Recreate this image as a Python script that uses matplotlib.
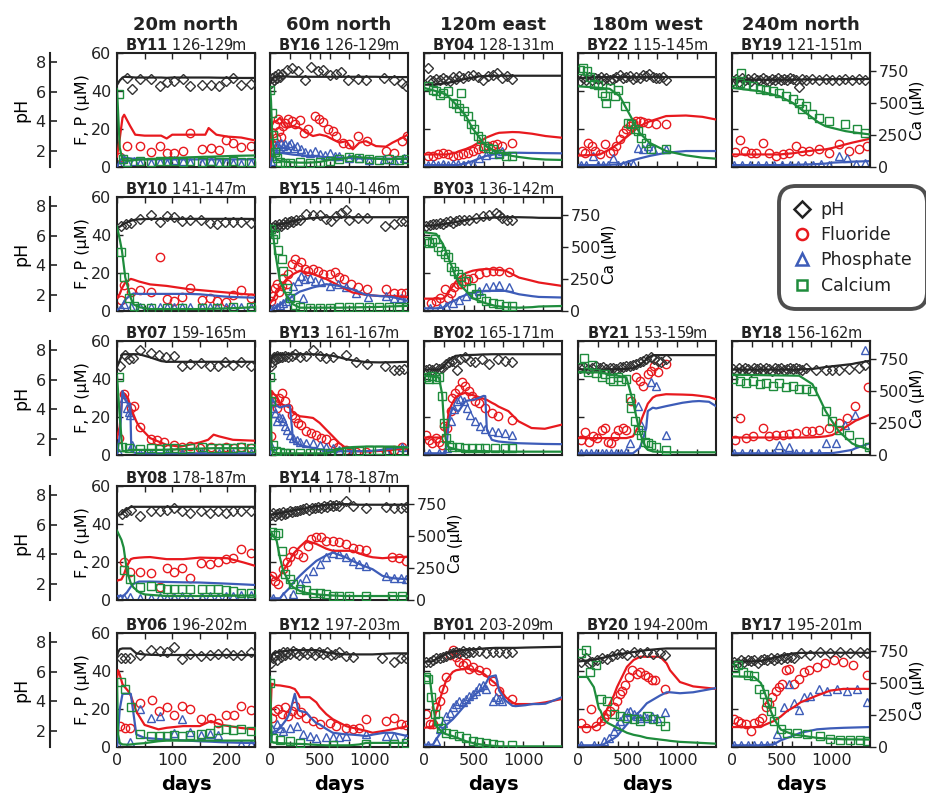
import matplotlib
matplotlib.use("Agg")
import matplotlib.pyplot as plt
from matplotlib.lines import Line2D

# ---------------- column headers / panels ----------------
col_titles = ["20m north", "60m north", "120m east", "180m west", "240m north"]

# ---------------- data: BY11 ----------------
BY11_pHd = [18, 27, 41, 62, 77, 91, 104, 119, 133, 154, 171, 185, 197, 211, 224, 243]
BY11_pH = [6.92, 6.21, 6.85, 6.87, 6.41, 6.65, 6.74, 6.85, 6.41, 6.47, 6.45, 6.41, 6.69, 6.92, 6.43, 6.54]
BY11_Fd = [5, 19, 42, 62, 77, 91, 104, 119, 133, 154, 171, 185, 197, 211, 224, 243]
BY11_F = [5.5, 11, 11, 7.9, 11, 7.5, 7.2, 8.4, 18, 9.3, 9.8, 8.9, 14, 12.4, 10.5, 11]
BY11_Pd = [3, 10, 19, 30, 42, 62, 77, 91, 104, 119, 133, 154, 171, 185, 197, 211, 224, 243]
BY11_P = [1, 5, 2.5, 3, 2, 2, 2.5, 2, 3.5, 3, 2.5, 2, 3, 2, 2.5, 2, 1.5, 2]
BY11_Cad = [3, 10, 19, 42, 62, 77, 91, 104, 119, 133, 154, 171, 185, 197, 211, 224, 243]
BY11_Ca = [570, 60, 40, 45, 40, 45, 50, 45, 40, 45, 40, 45, 40, 40, 45, 40, 40]
BY11_md = [0, 5, 10, 13, 24, 33, 50, 80, 90, 100, 130, 160, 166, 180, 200, 225, 250]
BY11_mpH = [6.45, 6.75, 6.95, 7.0, 6.98, 6.95, 6.95, 6.95, 6.93, 6.95, 6.95, 6.95, 6.95, 6.94, 6.93, 6.92, 6.92]
BY11_mF = [5.5, 15, 26, 27.5, 21.5, 17, 16.5, 16.5, 15, 17, 17, 17, 20.5, 17, 16, 15.5, 14]
BY11_mP = [0, 3, 5, 5, 4.5, 4.2, 4, 4, 4, 4, 4, 4, 4, 4, 4, 4, 4]
BY11_mCa = [610, 150, 55, 50, 50, 55, 60, 65, 70, 70, 75, 80, 80, 82, 85, 88, 90]

# ---------------- BY10 ----------------
BY10_pHd = [7, 17, 26, 42, 62, 77, 91, 104, 118, 132, 153, 168, 182, 195, 210, 225, 243]
BY10_pH = [6.65, 6.76, 6.86, 7.1, 7.4, 6.93, 7.35, 7.26, 6.97, 7.02, 7.02, 6.86, 6.76, 6.9, 6.9, 6.93, 6.86]
BY10_Fd = [7, 13, 26, 41, 62, 77, 91, 104, 118, 133, 154, 168, 182, 197, 210, 224, 243]
BY10_F = [5.8, 13.6, 10, 11, 10, 28.2, 6.2, 5.3, 7.4, 12, 5.6, 7, 5.3, 4.8, 8.5, 11.3, 6.9]
BY10_Pd = [7, 13, 26, 41, 62, 77, 91, 104, 118, 133, 154, 168, 182, 197, 210, 224, 243]
BY10_P = [1.8, 3.9, 2, 2.2, 2, 2.2, 2, 2, 2, 2, 2, 2.2, 2, 2, 2, 2.2, 2]
BY10_Cad = [7, 13, 21, 30, 42, 62, 91, 118, 154, 182, 210, 243]
BY10_Ca = [458, 262, 100, 40, 25, 26, 25, 26, 25, 26, 30, 28]
BY10_md = [0, 5, 9, 15, 25, 30, 40, 60, 90, 130, 150, 180, 200, 225, 250]
BY10_mpH = [6.54, 6.6, 6.7, 6.85, 7.0, 7.05, 7.1, 7.13, 7.13, 7.13, 7.13, 7.13, 7.13, 7.13, 7.12]
BY10_mF = [7, 9, 12, 15, 16.9, 16.5, 15.5, 14, 13.2, 11.5, 11, 10.2, 9.7, 9, 8.5]
BY10_mP = [0.5, 1.5, 3, 6, 8.5, 9.2, 9, 9, 9, 9, 8.8, 8, 7.5, 7.2, 7]
BY10_mCa = [660, 560, 470, 262, 100, 52, 30, 15, 15, 15, 15, 18, 20, 25, 30]

# ---------------- BY07 ----------------
BY07_pHd = [5, 15, 21, 29, 42, 62, 76, 89, 103, 118, 133, 153, 168, 183, 195, 210, 224, 243]
BY07_pH = [6.9, 7.65, 7.38, 7.45, 8.0, 7.82, 7.65, 7.54, 7.6, 6.9, 7.05, 7.1, 6.95, 6.95, 7.2, 6.99, 7.2, 6.9]
BY07_Fd = [3, 13, 25, 30, 42, 62, 73, 86, 103, 118, 133, 151, 170, 185, 197, 212, 224, 243]
BY07_F = [8.9, 32, 25, 25.6, 14.6, 8.3, 7.8, 7.1, 5.3, 4.4, 4.8, 3.6, 4.1, 3.6, 4.1, 3.6, 4, 3.6]
BY07_Pd = [3, 13, 19, 21, 24, 27, 42, 62, 91, 118, 154, 185, 211, 243]
BY07_P = [1, 30, 24.5, 22.6, 20.8, 5.3, 1, 1, 1.2, 1, 1, 1.2, 1, 1]
BY07_Cad = [3, 9, 21, 42, 62, 77, 91, 104, 118, 133, 154, 171, 185, 197, 211, 224, 243]
BY07_Ca = [606, 60, 55, 50, 55, 50, 53, 55, 50, 55, 60, 55, 52, 55, 55, 60, 55]
BY07_md = [0, 5, 10, 15, 20, 24, 26, 35, 40, 60, 80, 90, 115, 150, 165, 175, 185, 210, 250]
BY07_mpH = [6.84, 7.3, 7.71, 7.71, 7.71, 7.71, 7.71, 7.71, 7.71, 7.5, 7.25, 7.2, 7.2, 7.2, 7.2, 7.2, 7.2, 7.2, 7.2]
BY07_mF = [8.9, 15, 33, 32, 29.8, 26, 24, 17.7, 15, 8.9, 6.5, 5.3, 4.4, 6.6, 8, 10.7, 9.8, 8, 7.5]
BY07_mP = [0.9, 10, 33.7, 29, 27, 27, 1.8, 1, 0.9, 0.9, 0.9, 0.9, 0.9, 0.9, 0.9, 0.9, 0.9, 0.9, 0.9]
BY07_mCa = [619, 300, 30, 30, 35, 38, 40, 40, 40, 40, 40, 42, 45, 50, 52, 53, 53, 53, 53]

# ---------------- BY08 ----------------
BY08_pHd = [9, 17, 25, 41, 62, 77, 90, 104, 118, 133, 153, 168, 183, 197, 210, 225, 243]
BY08_pH = [6.72, 6.85, 7.0, 6.56, 6.94, 6.9, 7.0, 7.12, 6.9, 6.78, 6.9, 6.78, 6.9, 6.78, 6.9, 6.94, 6.94]
BY08_Fd = [13, 24, 41, 62, 77, 90, 104, 118, 133, 153, 168, 183, 198, 211, 224, 243]
BY08_F = [20.1, 14.8, 14.8, 14.1, 6.9, 16.6, 14.8, 16.8, 11.5, 19.4, 19.0, 20.1, 21.5, 22.3, 26.7, 25]
BY08_Pd = [5, 13, 24, 41, 62, 77, 91, 104, 118, 133, 154, 168, 183, 197, 211, 224, 243]
BY08_P = [1, 1, 1.5, 1, 1, 1.5, 1, 1.5, 2, 1.5, 1.5, 2, 1.5, 2, 2, 2.5, 2.5]
BY08_Cad = [13, 24, 41, 62, 77, 91, 104, 118, 133, 154, 168, 183, 197, 211, 224, 243]
BY08_Ca = [236, 162, 102, 110, 97, 84, 84, 84, 84, 84, 84, 84, 78, 71, 55, 55]
BY08_md = [0, 8, 12, 18, 25, 30, 40, 50, 60, 90, 120, 150, 200, 230, 250]
BY08_mpH = [6.63, 6.7, 6.85, 7.05, 7.19, 7.2, 7.2, 7.2, 7.2, 7.2, 7.2, 7.2, 7.2, 7.2, 7.2]
BY08_mF = [10.2, 10.8, 13, 18, 21.5, 22, 22.3, 22.5, 22.6, 21.5, 21.5, 22.3, 22, 19.7, 18]
BY08_mP = [2.1, 2.1, 2.3, 4, 7, 8.5, 9.7, 9.7, 9.7, 9.5, 9.3, 9.2, 8.6, 8.2, 7.9]
BY08_mCa = [541, 470, 410, 228, 130, 97, 60, 44, 40, 31, 31, 31, 33, 35, 35]

# ---------------- BY06 ----------------
BY06_pHd = [7, 15, 24, 42, 62, 77, 91, 103, 118, 132, 153, 168, 183, 197, 211, 225, 243]
BY06_pH = [6.9, 6.9, 6.94, 7.12, 7.45, 7.4, 7.34, 7.67, 6.83, 7.18, 7.07, 7.12, 7.18, 7.27, 7.12, 7.15, 7.34]
BY06_Fd = [6, 15, 24, 42, 64, 76, 91, 104, 118, 133, 153, 170, 183, 198, 212, 224, 243]
BY06_F = [11, 10.1, 10.1, 23.2, 25, 18.7, 21, 17, 21.7, 19.9, 14.6, 15.5, 12.8, 17, 17, 21.7, 19.6]
BY06_Pd = [2, 24, 42, 62, 77, 104, 118, 133, 153, 168, 183, 224, 243]
BY06_P = [0.8, 2.5, 19.9, 15.5, 16.4, 7.5, 14.6, 8, 6.5, 6.8, 6.3, 1.5, 1.5]
BY06_Cad = [7, 15, 26, 42, 62, 77, 91, 104, 118, 133, 153, 168, 183, 197, 211, 225, 243]
BY06_Ca = [507, 454, 311, 98, 85, 85, 85, 90, 85, 93, 98, 106, 129, 137, 129, 137, 124]
BY06_md = [0, 2, 5, 10, 20, 25, 35, 50, 75, 90, 120, 150, 170, 190, 225, 250]
BY06_mpH = [7.0, 7.3, 7.51, 7.56, 7.56, 7.56, 7.23, 7.15, 7.12, 7.12, 7.12, 7.12, 7.12, 7.12, 7.12, 7.12]
BY06_mF = [36, 40.4, 38, 33, 29.5, 27, 18.7, 11.6, 9.3, 10.1, 11, 11, 13.7, 11.6, 10, 9.3]
BY06_mP = [0.4, 8, 20, 28, 28, 28, 6.6, 4.8, 4.2, 3.9, 3.5, 3, 2.8, 2.5, 2.2, 2.1]
BY06_mCa = [512, 100, 32, 20, 18, 20, 25, 30, 45, 50, 50, 50, 50, 50, 50, 50]

# ---------------- BY16 ----------------
BY16_pHd = [10, 25, 40, 55, 70, 85, 100, 117, 167, 217, 283, 350, 417, 483, 530, 600, 667, 717, 783, 883, 967, 1150, 1250, 1333, 1367]
BY16_pH = [6.6, 6.9, 6.75, 7.05, 6.9, 7.2, 7.0, 7.2, 7.47, 7.58, 7.36, 6.8, 7.69, 7.36, 7.45, 7.14, 7.2, 7.3, 6.8, 6.85, 6.8, 6.92, 6.76, 6.58, 6.36]
BY16_Fd = [20, 35, 50, 65, 80, 95, 110, 133, 150, 183, 217, 250, 300, 340, 383, 450, 493, 533, 583, 633, 667, 733, 800, 883, 973, 1167, 1250, 1333, 1383]
BY16_F = [12, 18, 22, 15, 25, 19, 16, 21.5, 23.3, 25, 24, 22.4, 24.7, 18, 19.8, 26.8, 25, 23.6, 19.8, 18.9, 16.3, 12.8, 11.9, 16.3, 13.6, 8.4, 7.5, 13.6, 16.3]
BY16_Pd = [15, 30, 45, 60, 75, 90, 110, 130, 150, 170, 190, 210, 240, 270, 310, 350, 400, 450, 500, 550, 600, 650, 700, 800, 900, 1000, 1150, 1250, 1350]
BY16_P = [3, 6, 9, 11, 12, 10, 12.5, 11, 12, 10, 11.5, 12.8, 10, 11, 9.5, 8, 7.5, 8.4, 7, 6.5, 7.5, 6, 5.8, 5, 4.5, 3.5, 4, 3.5, 4.5]
BY16_Cad = [5, 20, 35, 50, 70, 100, 150, 200, 300, 400, 500, 600, 700, 800, 900, 1000, 1100, 1200, 1300, 1370]
BY16_Ca = [600, 420, 250, 120, 70, 40, 35, 35, 40, 35, 40, 45, 60, 75, 70, 60, 55, 60, 55, 60]
BY16_md = [0, 10, 20, 40, 60, 100, 167, 233, 300, 367, 433, 500, 567, 633, 700, 767, 833, 900, 967, 1067, 1167, 1233, 1333, 1390]
BY16_mpH = [6.5, 6.65, 6.8, 6.95, 7.0, 7.02, 7.02, 7.0, 7.0, 7.0, 7.0, 7.0, 7.0, 7.0, 7.0, 7.0, 7.0, 7.0, 7.0, 7.0, 6.98, 6.98, 6.98, 6.98]
BY16_mF = [3, 8, 22, 24, 24, 25.9, 20.6, 21.5, 20.6, 18, 16.3, 17.1, 16.3, 14.5, 12.8, 13.6, 9.3, 12.8, 13.6, 11, 10.7, 12.8, 15.4, 17.1]
BY16_mP = [0, 2, 5, 7, 7.5, 7.5, 7, 6.5, 6.2, 6, 5.8, 5.5, 5.2, 5, 4.9, 4.8, 4.6, 4.5, 4.4, 4.4, 4.4, 4.4, 4.4, 4.4]
BY16_mCa = [620, 520, 300, 100, 60, 47, 40, 36, 34, 34, 36, 40, 50, 60, 62, 70, 85, 75, 73, 65, 60, 62, 65, 65]

# ---------------- BY15 ----------------
BY15_pHd = [10, 30, 50, 70, 90, 110, 130, 150, 170, 190, 210, 230, 260, 300, 367, 433, 500, 567, 617, 667, 717, 767, 800, 883, 973, 1160, 1250, 1317, 1360]
BY15_pH = [6.5, 6.55, 6.7, 6.6, 6.75, 6.65, 6.8, 6.9, 6.75, 6.95, 7.0, 6.9, 7.05, 7.08, 7.45, 7.41, 7.41, 7.15, 6.97, 7.34, 7.52, 7.74, 7.02, 7.19, 7.19, 6.65, 6.8, 6.97, 6.97]
BY15_Fd = [10, 30, 50, 70, 90, 117, 133, 167, 183, 217, 250, 283, 317, 350, 383, 433, 483, 533, 600, 650, 700, 750, 817, 883, 973, 1167, 1250, 1317, 1367]
BY15_F = [5, 8, 12, 14, 10, 13.2, 17.6, 14, 19.4, 24.7, 27.4, 22.9, 25.6, 22, 21.2, 22, 21.2, 19.4, 19.4, 20.3, 18, 16.8, 14, 12.4, 11.5, 11.5, 9.7, 9.7, 9.7]
BY15_Pd = [10, 40, 70, 100, 130, 160, 200, 233, 283, 317, 333, 350, 400, 450, 517, 600, 683, 767, 867, 983, 1167, 1250, 1317, 1367]
BY15_P = [1, 1.5, 2, 3, 4, 5, 8, 13.2, 15.9, 18.5, 7.1, 16.8, 17.6, 15.9, 15, 13.2, 14.1, 12.4, 9.7, 7.4, 8, 7.1, 7.1, 6.2]
BY15_Cad = [10, 30, 50, 80, 117, 133, 167, 200, 250, 300, 400, 500, 600, 700, 800, 900, 1000, 1100, 1200, 1300, 1370]
BY15_Ca = [640, 560, 600, 480, 406, 314, 183, 105, 50, 30, 26, 26, 26, 30, 28, 30, 35, 30, 28, 30, 35]
BY15_md = [0, 30, 60, 100, 167, 233, 300, 433, 567, 700, 833, 967, 1100, 1233, 1390]
BY15_mpH = [6.5, 6.6, 6.7, 6.76, 6.85, 6.97, 7.08, 7.19, 7.24, 7.24, 7.24, 7.24, 7.24, 7.24, 7.24]
BY15_mF = [4, 6, 9, 12.4, 16.8, 19.4, 21.2, 19.4, 16.8, 13.2, 9.7, 8.5, 7.9, 7.9, 7.4]
BY15_mP = [0.5, 1, 2, 3.5, 5.5, 8, 10.2, 12.4, 14.1, 13.2, 11.3, 8.5, 7.9, 7.4, 5.3]
BY15_mCa = [670, 600, 420, 235, 118, 52, 26, 26, 26, 26, 28, 30, 32, 36, 40]

# ---------------- BY13 ----------------
BY13_pHd = [10, 25, 40, 55, 70, 85, 100, 117, 150, 183, 217, 250, 300, 367, 433, 500, 567, 633, 767, 867, 973, 1160, 1250, 1300, 1350]
BY13_pH = [6.9, 7.2, 7.5, 7.3, 7.6, 7.45, 7.55, 7.49, 7.6, 7.49, 7.6, 7.71, 7.49, 7.6, 8.0, 7.6, 7.43, 7.49, 7.65, 7.16, 7.05, 6.95, 6.62, 6.68, 6.73]
BY13_Fd = [10, 30, 50, 70, 90, 117, 150, 183, 217, 250, 283, 317, 367, 417, 467, 517, 567, 633, 683, 767, 867, 967, 1167, 1250, 1333]
BY13_F = [10, 30, 28, 25, 30, 32.8, 28.4, 24.9, 21.3, 19.5, 16.9, 16, 12.4, 11.5, 10.3, 9.2, 8.5, 6.2, 4.4, 2.7, 1.8, 1.8, 2.1, 2.7, 4.4]
BY13_Pd = [10, 30, 50, 70, 90, 117, 133, 150, 167, 200, 233, 267, 300, 367, 433, 500, 567, 633, 700, 833, 1167, 1333]
BY13_P = [5, 25, 22, 18, 20, 19.5, 17.8, 15.1, 13.3, 10.7, 8.9, 8, 7.1, 6.2, 6.2, 5.3, 4.4, 3.6, 2.7, 1.8, 2.1, 4.4]
BY13_Cad = [5, 15, 30, 60, 100, 150, 200, 300, 400, 500, 600, 700, 800, 900, 1000, 1100, 1200, 1300, 1370]
BY13_Ca = [610, 420, 80, 30, 20, 15, 15, 15, 13, 15, 15, 20, 26, 30, 40, 40, 35, 30, 35]
BY13_md = [0, 10, 17, 40, 67, 100, 167, 200, 233, 300, 367, 433, 500, 567, 633, 700, 767, 833, 967, 1100, 1233, 1390]
BY13_mpH = [6.84, 7.2, 7.5, 7.65, 7.71, 7.68, 7.7, 7.71, 7.71, 7.71, 7.71, 7.71, 7.68, 7.64, 7.6, 7.5, 7.38, 7.3, 7.18, 7.16, 7.17, 7.2]
BY13_mF = [8.9, 25, 33.7, 32, 31, 27, 25.7, 24.9, 22.2, 20.4, 20, 19.5, 16.9, 13.3, 9.8, 6.2, 3.6, 2.1, 1.8, 2.1, 2.7, 3.6]
BY13_mP = [0.5, 20, 30, 28, 26, 25, 26, 26, 7.5, 5.3, 4.5, 3.6, 3, 2.7, 2.2, 2, 2, 2, 2, 2.5, 3.5, 4.4]
BY13_mCa = [580, 300, 50, 20, 15, 13, 13, 13, 13, 13, 13, 13, 13, 13, 26, 45, 58, 62, 66, 66, 66, 58]

# ---------------- BY14 ----------------
BY14_pHd = [15, 35, 55, 75, 95, 115, 135, 155, 175, 200, 225, 250, 275, 300, 330, 360, 390, 420, 450, 480, 510, 540, 570, 600, 630, 660, 700, 767, 833, 967, 1167, 1250, 1317, 1367]
BY14_pH = [6.65, 6.75, 6.6, 6.7, 6.8, 6.65, 6.85, 6.7, 6.8, 6.9, 6.85, 6.95, 6.9, 7.0, 7.05, 7.1, 7.0, 7.15, 7.1, 7.2, 7.15, 7.25, 7.2, 7.3, 7.25, 7.3, 7.25, 7.56, 7.23, 7.12, 7.2, 7.12, 7.12, 7.2]
BY14_Fd = [17, 50, 83, 133, 167, 200, 233, 283, 333, 383, 417, 467, 517, 567, 633, 700, 767, 833, 900, 967, 1233, 1300, 1367]
BY14_F = [12.7, 10.1, 8.3, 16.2, 19.8, 22.4, 25.9, 24.2, 22.4, 28.6, 32.1, 33.4, 33, 31.2, 30.9, 30.4, 29.5, 27.4, 26.8, 26.3, 22.8, 22, 20.6]
BY14_Pd = [33, 133, 233, 300, 367, 433, 500, 567, 633, 700, 767, 833, 900, 967, 1167, 1250, 1317, 1367]
BY14_P = [0.9, 2.1, 3, 9.2, 11.8, 15.4, 18.9, 22.4, 25, 24.2, 22.4, 20.6, 18.9, 18, 12.7, 11.8, 11.5, 10.9]
BY14_Cad = [17, 50, 83, 117, 150, 200, 233, 300, 367, 433, 500, 567, 633, 700, 800, 967, 1233, 1333]
BY14_Ca = [532, 508, 525, 386, 201, 162, 123, 84, 75, 58, 52, 44, 31, 31, 31, 31, 31, 31]
BY14_md = [0, 67, 100, 133, 200, 233, 300, 367, 467, 567, 633, 767, 833, 900, 967, 1033, 1133, 1233, 1390]
BY14_mpH = [6.68, 6.72, 6.78, 6.82, 6.9, 6.95, 7.03, 7.12, 7.25, 7.34, 7.36, 7.38, 7.36, 7.34, 7.34, 7.34, 7.34, 7.34, 7.34]
BY14_mF = [13.6, 10.9, 13, 15.4, 21, 24.2, 28, 31.2, 29.5, 27, 25.9, 25.9, 25.9, 24.5, 23.3, 22.5, 22, 22.4, 22.8]
BY14_mP = [0.9, 0.9, 0.9, 3, 6.5, 9, 12.7, 16, 20.6, 23.5, 25, 22.4, 20.5, 18.9, 17.5, 16.2, 12.7, 11.5, 10.9]
BY14_mCa = [542, 463, 330, 228, 123, 100, 71, 55, 44, 38, 35, 31, 31, 31, 31, 31, 31, 31, 31]

# ---------------- BY12 ----------------
BY12_pHd = [10, 30, 50, 70, 90, 110, 130, 150, 170, 200, 230, 260, 290, 330, 370, 410, 450, 490, 530, 570, 610, 650, 700, 767, 833, 1133, 1250, 1317, 1367]
BY12_pH = [6.6, 6.9, 7.1, 6.8, 7.2, 7.0, 7.3, 7.1, 7.35, 7.2, 7.4, 7.25, 7.1, 7.3, 7.2, 7.35, 7.15, 7.3, 7.2, 7.3, 7.1, 7.2, 7.35, 7.05, 7.0, 6.9, 6.68, 6.9, 6.95]
BY12_Fd = [17, 50, 83, 117, 150, 183, 217, 250, 283, 317, 367, 433, 500, 600, 667, 767, 833, 900, 967, 1167, 1250, 1317, 1367]
BY12_F = [15.5, 19, 20, 17.3, 20.8, 16.4, 19, 21.7, 17.3, 18.2, 15.5, 13.7, 11.9, 12.8, 11, 10.1, 9.3, 10.1, 14.6, 13.7, 15.5, 11.9, 11.6]
BY12_Pd = [17, 67, 100, 133, 200, 267, 333, 400, 467, 567, 633, 700, 767, 967, 1167, 1250, 1367]
BY12_P = [9.3, 11.9, 10.1, 8.4, 10.1, 11, 6.6, 5.7, 4.8, 5.2, 5.2, 5.2, 5.7, 6.6, 5.7, 5.7, 4.8]
BY12_Cad = [5, 33, 100, 200, 300, 633, 967, 1250, 1367]
BY12_Ca = [500, 71, 58, 45, 32, 18, 24, 24, 32]
BY12_md = [0, 17, 33, 67, 100, 167, 200, 250, 283, 300, 367, 400, 467, 500, 567, 633, 767, 800, 900, 967, 1033, 1150, 1233, 1390]
BY12_mpH = [6.57, 7.0, 7.23, 7.3, 7.35, 7.4, 7.45, 7.45, 7.45, 7.45, 7.45, 7.45, 7.45, 7.4, 7.3, 7.23, 7.16, 7.16, 7.16, 7.16, 7.16, 7.2, 7.23, 7.23]
BY12_mF = [10.1, 33.3, 33, 32.5, 32.4, 31.8, 31.5, 30.5, 28, 26.2, 26.2, 26.2, 23.5, 21, 17.3, 14.6, 11, 10.5, 9.3, 8.5, 7.5, 8.5, 9.3, 11]
BY12_mP = [3, 6, 8, 8.4, 10, 14.6, 18, 28, 20, 19, 18.2, 16, 12.5, 11.9, 9.5, 7.5, 6.6, 6.6, 6.2, 5.7, 6.5, 7.5, 7.5, 5.7]
BY12_mCa = [547, 45, 35, 32, 30, 28, 27, 25, 24, 24, 22, 20, 17, 15, 13, 13, 13, 13, 20, 32, 32, 32, 32, 32]

# ---------------- BY04 ----------------
BY04_pHd = [40, 57, 90, 123, 157, 190, 223, 257, 290, 323, 357, 390, 440, 490, 540, 590, 640, 690, 740, 790, 840, 890]
BY04_pH = [7.58, 6.8, 6.69, 6.85, 6.76, 6.92, 6.8, 6.69, 6.96, 6.85, 7.03, 6.92, 7.03, 7.14, 6.98, 6.8, 7.03, 7.14, 7.25, 6.92, 7.03, 6.85]
BY04_Fd = [40, 90, 140, 190, 240, 290, 340, 390, 440, 490, 540, 590, 640, 690, 740, 790, 890]
BY04_F = [5.8, 5.8, 6.6, 7.2, 6.6, 5.8, 6.1, 6.6, 7.5, 8.4, 9.3, 10.1, 11, 11.4, 11.9, 11, 12.4]
BY04_Pd = [40, 90, 140, 190, 240, 290, 340, 390, 440, 490, 557, 623, 690, 757, 790]
BY04_P = [1.2, 1.4, 1.2, 1.4, 1.2, 1.4, 1.4, 1.2, 1.4, 1.6, 4.9, 6.1, 6.6, 7.5, 8.4]
BY04_Cad = [40, 90, 123, 157, 190, 240, 290, 323, 357, 373, 407, 440, 473, 507, 540, 573, 607, 640, 690, 757, 823, 890]
BY04_Ca = [631, 600, 590, 566, 579, 592, 501, 488, 462, 579, 436, 397, 332, 293, 241, 215, 163, 151, 138, 99, 86, 86]
BY04_md = [0, 123, 223, 323, 357, 423, 490, 523, 557, 623, 723, 757, 890, 957, 1057, 1090, 1223, 1390]
BY04_mpH = [6.47, 6.47, 6.58, 6.69, 6.75, 6.87, 6.95, 6.98, 7.03, 7.05, 7.07, 7.07, 7.07, 7.07, 7.07, 7.07, 7.07, 7.07]
BY04_mF = [6.6, 6.6, 6.6, 7.5, 8.4, 9.5, 11, 12, 13, 15.4, 17.5, 18, 18.4, 18.3, 17.7, 17.5, 16.3, 15.4]
BY04_mP = [1, 1, 1, 1, 1.2, 2, 3.1, 3.8, 4.5, 5.8, 6.8, 7.2, 7.5, 7.5, 7.4, 7.4, 7.3, 7.2]
BY04_mCa = [618, 592, 566, 488, 460, 397, 300, 267, 230, 163, 120, 112, 86, 78, 68, 65, 58, 55]

# ---------------- BY03 ----------------
BY03_pHd = [23, 57, 90, 123, 157, 190, 223, 257, 290, 323, 357, 407, 457, 523, 590, 657, 723, 757, 790, 840, 890]
BY03_pH = [6.65, 6.71, 6.76, 6.8, 6.86, 6.76, 6.93, 6.97, 6.86, 6.97, 7.02, 7.08, 7.08, 7.19, 7.3, 7.41, 7.52, 7.37, 7.19, 7.08, 7.02]
BY03_Fd = [73, 123, 157, 207, 240, 273, 307, 340, 373, 407, 440, 490, 557, 623, 690, 757, 857]
BY03_F = [4.4, 5.3, 7.1, 11.5, 7.1, 9.7, 12.4, 14.1, 14.1, 15.9, 16.8, 17.6, 19.4, 20.3, 21.2, 20.8, 20.3]
BY03_Pd = [57, 157, 223, 290, 357, 423, 490, 557, 623, 690, 757, 857]
BY03_P = [1.4, 1.8, 2.6, 4.4, 5.6, 7.9, 8.8, 10.6, 12.4, 13.2, 13.8, 12.7]
BY03_Cad = [23, 50, 77, 107, 140, 173, 207, 240, 273, 307, 340, 373, 423, 473, 523, 573, 623, 690, 757, 823, 890]
BY03_Ca = [550, 529, 537, 563, 497, 471, 445, 419, 340, 314, 288, 262, 236, 183, 131, 105, 79, 65, 52, 39, 39]
BY03_md = [0, 123, 190, 223, 257, 323, 357, 423, 490, 557, 623, 723, 823, 957, 1090, 1157, 1390]
BY03_mpH = [6.65, 6.7, 6.76, 6.8, 6.85, 6.92, 6.97, 7.05, 7.12, 7.17, 7.19, 7.22, 7.24, 7.24, 7.22, 7.2, 7.19]
BY03_mF = [6.5, 6.5, 6.5, 8, 10.6, 15.5, 17.6, 20, 21.2, 21.8, 22.1, 21.8, 21.2, 17.6, 15.9, 15, 13.2]
BY03_mP = [1.4, 1.4, 1.8, 2.6, 4.4, 5.8, 7.1, 8.5, 9.5, 10.2, 10.6, 10.6, 10.6, 8.8, 7.8, 7.4, 7.1]
BY03_mCa = [615, 602, 524, 460, 393, 262, 210, 157, 100, 79, 60, 39, 30, 26, 30, 35, 39]

# ---------------- BY02 ----------------
BY02_pHd = [17, 50, 83, 117, 150, 183, 217, 250, 283, 317, 333, 367, 417, 467, 517, 583, 650, 750, 817, 883]
BY02_pH = [6.68, 6.73, 6.68, 6.77, 6.73, 6.77, 7.05, 7.16, 7.27, 7.21, 6.62, 7.38, 7.49, 7.27, 7.16, 7.38, 7.05, 7.38, 7.27, 7.16]
BY02_Fd = [17, 50, 83, 117, 150, 183, 200, 233, 267, 283, 317, 350, 383, 417, 450, 483, 517, 550, 617, 683, 750, 883]
BY02_F = [10.7, 8, 6.2, 8.9, 7.1, 5.3, 15.1, 14.2, 23.1, 29.8, 32.8, 34.6, 38.2, 36.4, 33.7, 31.1, 28.4, 27.5, 24.9, 22.2, 20.4, 18.6]
BY02_Pd = [50, 150, 233, 267, 300, 333, 367, 400, 433, 467, 517, 567, 617, 683, 750, 817, 883]
BY02_P = [0.9, 0.9, 3.6, 17.8, 24, 28.4, 29.3, 28.4, 24.9, 21.3, 17.8, 15.1, 13.8, 12.8, 12.1, 11.5, 10.7]
BY02_Cad = [17, 50, 83, 117, 150, 183, 200, 217, 250, 283, 350, 417, 483, 550, 617, 717, 817, 883]
BY02_Ca = [606, 592, 619, 592, 606, 461, 250, 132, 79, 66, 66, 53, 53, 53, 53, 53, 53, 53]
BY02_md = [0, 150, 183, 200, 217, 233, 250, 283, 317, 350, 417, 517, 600, 617, 633, 683, 717, 750, 850, 950, 1083, 1217, 1390]
BY02_mpH = [6.68, 6.68, 6.8, 6.9, 7.05, 7.15, 7.27, 7.45, 7.6, 7.62, 7.65, 7.67, 7.7, 7.7, 7.7, 7.71, 7.71, 7.71, 7.71, 7.71, 7.71, 7.71, 7.71]
BY02_mF = [9.2, 9.2, 9.5, 10, 10.7, 16, 23.1, 27, 30.2, 31.5, 32.8, 31.1, 29.6, 29.3, 29, 27.5, 26.6, 25.5, 23.1, 17.8, 14.2, 13.8, 16]
BY02_mP = [0.9, 0.9, 0.9, 0.9, 0.9, 8, 17.8, 24.9, 23.5, 23.1, 28.4, 29.3, 31.1, 31, 13.3, 8, 7.5, 7.1, 6.6, 6.2, 6, 5.8, 5.7]
BY02_mCa = [619, 606, 474, 263, 130, 79, 60, 53, 45, 40, 32, 32, 30, 30, 30, 28, 28, 28, 27, 26, 26, 26, 26]

# ---------------- BY01 ----------------
BY01_pHd = [23, 57, 90, 123, 157, 190, 223, 257, 290, 323, 357, 390, 423, 457, 490, 557, 623, 690, 757, 823, 890]
BY01_pH = [6.68, 6.63, 6.79, 6.9, 6.94, 7.0, 7.07, 7.16, 7.23, 7.29, 7.23, 7.38, 7.23, 7.29, 7.34, 7.38, 7.23, 7.29, 7.34, 7.23, 7.29]
BY01_Fd = [23, 57, 90, 123, 157, 190, 223, 257, 290, 323, 357, 390, 423, 457, 490, 557, 623, 690, 757, 890]
BY01_F = [17.3, 11.9, 11.9, 20.8, 24.4, 30.6, 36.9, 48.4, 51.1, 47.5, 44.9, 43.1, 44, 41.3, 42.2, 40.4, 39.5, 35, 29.7, 25.3]
BY01_Pd = [40, 123, 157, 190, 223, 257, 290, 323, 357, 390, 423, 457, 490, 523, 557, 590, 623, 690, 723, 757, 790]
BY01_P = [1.2, 3, 9.3, 12.8, 16.4, 18.1, 20.8, 22.6, 24.4, 23.5, 25.3, 27.1, 28, 29.7, 31.5, 32.4, 30.6, 24.4, 26.2, 25.3, 24.4]
BY01_Cad = [23, 40, 73, 107, 140, 173, 223, 290, 357, 423, 490, 557, 623, 690, 757, 890]
BY01_Ca = [547, 534, 388, 256, 203, 150, 111, 98, 85, 71, 50, 40, 32, 24, 18, 13]
BY01_md = [0, 57, 90, 123, 190, 223, 290, 323, 423, 523, 590, 623, 657, 723, 757, 823, 890, 923, 1023, 1090, 1157, 1223, 1390]
BY01_mpH = [6.68, 6.68, 6.7, 6.85, 7.07, 7.2, 7.34, 7.4, 7.48, 7.51, 7.55, 7.57, 7.58, 7.6, 7.6, 7.6, 7.6, 7.6, 7.62, 7.63, 7.64, 7.65, 7.67]
BY01_mF = [10.1, 10.5, 11, 19, 30, 35.1, 39.5, 40.4, 41.3, 40.4, 39, 37.7, 36, 33.3, 31, 26.2, 23.5, 22.6, 22.6, 22.6, 23, 23.5, 25.3]
BY01_mP = [1.2, 1.2, 1.2, 4, 9.3, 11.5, 14.6, 16.5, 22.6, 28, 30.6, 33.5, 36.9, 37.7, 29.7, 24.4, 21.7, 21.5, 22, 22.6, 22.6, 22.8, 26.2]
BY01_mCa = [560, 547, 335, 164, 111, 100, 85, 75, 45, 25, 18, 15, 12, 8, 5, 5, 5, 5, 5, 5, 5, 5, 5]

# ---------------- BY22 ----------------
BY22_pHd = [20, 50, 80, 110, 140, 170, 200, 230, 253, 287, 320, 353, 387, 420, 453, 487, 520, 553, 587, 620, 653, 687, 720, 753, 787, 820, 853, 887]
BY22_pH = [6.7, 6.9, 6.8, 7.0, 6.75, 6.95, 6.85, 7.0, 6.8, 6.92, 6.8, 6.85, 7.0, 7.14, 6.9, 6.98, 7.05, 6.85, 7.0, 6.95, 7.1, 7.07, 7.2, 7.0, 6.92, 6.95, 7.0, 6.8]
BY22_Fd = [37, 70, 103, 137, 170, 220, 270, 320, 353, 387, 420, 453, 487, 520, 553, 587, 620, 653, 703, 787, 887]
BY22_F = [8.4, 7.5, 12.8, 11, 8.4, 7, 12, 7.5, 8.4, 11, 14.5, 18, 19.8, 21.5, 23.3, 24.1, 24.1, 23.6, 22.9, 22.4, 22.7]
BY22_Pd = [30, 80, 153, 200, 250, 300, 353, 400, 450, 500, 550, 603, 653, 703, 753, 887]
BY22_P = [1, 1, 5.8, 1, 1.2, 1, 4.9, 1, 1.2, 1.5, 1.5, 10.1, 9.6, 11, 9.3, 9.3]
BY22_Cad = [20, 53, 87, 120, 160, 200, 237, 270, 287, 320, 370, 403, 470, 503, 537, 570, 603, 637, 687, 737, 887]
BY22_Ca = [760, 773, 747, 700, 650, 640, 579, 553, 501, 618, 553, 605, 475, 345, 332, 293, 280, 228, 189, 138, 143]
BY22_md = [0, 100, 220, 320, 420, 520, 620, 720, 887, 1087, 1253, 1390]
BY22_mpH = [6.9, 6.95, 6.98, 6.98, 6.98, 6.98, 6.98, 6.98, 6.98, 6.98, 6.98, 6.98]
BY22_mF = [6, 6.2, 6.6, 9.3, 12.8, 17.1, 21.5, 24, 26.8, 27.1, 26.4, 25]
BY22_mP = [1, 1, 1, 1.2, 1.4, 3.1, 4.5, 5.8, 7.5, 8.4, 8.4, 8.4]
BY22_mCa = [630, 625, 618, 610, 553, 410, 267, 189, 125, 91, 73, 65]

# ---------------- BY21 ----------------
BY21_pHd = [20, 60, 100, 140, 180, 220, 253, 287, 320, 353, 387, 420, 453, 487, 520, 553, 587, 620, 653, 687, 737, 770, 803, 837, 887]
BY21_pH = [6.75, 6.85, 6.7, 6.8, 6.9, 6.75, 6.84, 6.7, 6.77, 6.8, 6.73, 6.85, 6.84, 6.9, 6.95, 7.0, 7.05, 7.16, 7.25, 7.38, 7.49, 7.38, 7.27, 7.16, 7.38]
BY21_Fd = [30, 70, 110, 150, 190, 237, 270, 303, 337, 370, 403, 453, 487, 537, 587, 620, 653, 703, 737, 770, 803, 887]
BY21_F = [8, 12, 7, 10, 9, 13.3, 14.2, 7.1, 6.2, 9.8, 13.3, 14.2, 13.3, 28.4, 40.8, 39, 36.4, 42.6, 44.4, 47, 43.5, 47.9]
BY21_Pd = [30, 80, 130, 180, 237, 287, 337, 387, 437, 487, 520, 603, 637, 737, 787, 887]
BY21_P = [0.9, 1, 0.9, 1, 0.9, 1, 1.2, 1, 0.9, 1.5, 6.2, 25.7, 16, 38.2, 36.4, 10.7]
BY21_Cad = [20, 60, 100, 140, 180, 237, 270, 320, 353, 403, 437, 487, 520, 537, 570, 603, 637, 670, 703, 737, 787, 887]
BY21_Ca = [690, 760, 650, 700, 640, 606, 632, 592, 579, 606, 579, 592, 448, 369, 263, 198, 158, 105, 92, 79, 66, 40]
BY21_md = [0, 220, 487, 553, 620, 653, 687, 703, 753, 787, 887, 1053, 1153, 1220, 1320, 1390]
BY21_mpH = [6.7, 6.68, 6.72, 6.77, 7.0, 7.16, 7.35, 7.45, 7.65, 7.65, 7.65, 7.65, 7.65, 7.65, 7.65, 7.65]
BY21_mF = [8.9, 8.9, 8.9, 9.8, 16, 20.5, 24.9, 27, 30.2, 31.2, 32, 31.8, 31.6, 31.2, 30.5, 29.3]
BY21_mP = [0.9, 0.9, 0.9, 0.9, 3.6, 8, 14.2, 23.1, 24.9, 24.5, 25.7, 27.5, 28.2, 28.4, 28, 25.7]
BY21_mCa = [645, 645, 606, 421, 184, 110, 53, 40, 28, 26, 22, 21, 21, 21, 21, 21]

# ---------------- BY20 ----------------
BY20_pHd = [27, 77, 110, 143, 193, 243, 293, 343, 393, 443, 493, 560, 627, 693, 760, 827, 877]
BY20_pH = [6.68, 6.9, 6.57, 6.68, 6.79, 6.94, 6.85, 7.07, 7.16, 7.23, 7.12, 7.29, 7.23, 7.34, 7.16, 7.23, 7.12]
BY20_Fd = [27, 77, 127, 177, 227, 260, 293, 327, 360, 393, 427, 443, 477, 510, 543, 593, 627, 677, 710, 743, 777, 877]
BY20_F = [12.8, 10.1, 19.9, 11, 13.7, 15.5, 17.3, 19, 20.8, 24.4, 27.9, 29.7, 32.4, 36.9, 40.4, 38.6, 39.5, 37.7, 36.9, 35.1, 35.1, 30.6]
BY20_Pd = [27, 160, 260, 310, 360, 393, 427, 460, 493, 527, 560, 593, 627, 660, 693, 743, 793, 877]
BY20_P = [0.9, 1.2, 3, 4.6, 8.4, 11, 13.7, 16.4, 18.2, 19, 17.3, 16.4, 15.5, 16.4, 15.5, 16.4, 15.5, 18.2]
BY20_Cad = [27, 77, 120, 177, 227, 293, 360, 427, 493, 560, 627, 693, 760, 827, 877]
BY20_Ca = [731, 758, 586, 639, 375, 362, 256, 243, 230, 217, 203, 243, 217, 203, 164]
BY20_md = [0, 93, 160, 210, 227, 260, 293, 360, 393, 493, 560, 627, 693, 827, 893, 927, 1027, 1160, 1390]
BY20_mpH = [6.68, 6.75, 6.8, 6.88, 6.9, 6.95, 7.0, 7.1, 7.16, 7.25, 7.32, 7.38, 7.45, 7.53, 7.56, 7.56, 7.56, 7.56, 7.56]
BY20_mF = [10.5, 10.5, 10.5, 12, 12.8, 16, 19.9, 27, 31.5, 42.2, 45.8, 47.5, 47.5, 47.5, 44, 40.4, 34.2, 31.9, 30.6]
BY20_mP = [0.9, 0.9, 0.9, 1, 1, 1.5, 2.5, 4.5, 5.7, 11.9, 15.5, 19, 23, 27.1, 28.8, 28.8, 28.3, 28.8, 31]
BY20_mCa = [547, 547, 467, 300, 283, 215, 190, 164, 150, 111, 95, 85, 71, 58, 52, 48, 40, 35, 26]

# ---------------- BY19 ----------------
BY19_pHd = [10, 40, 70, 100, 130, 160, 190, 220, 250, 280, 310, 340, 370, 400, 430, 460, 490, 520, 550, 580, 610, 640, 677, 710, 743, 810, 877, 943, 1010, 1077, 1143, 1210, 1277, 1343]
BY19_pH = [6.7, 6.85, 6.65, 6.9, 6.75, 6.85, 6.7, 6.9, 6.8, 6.75, 6.9, 6.8, 6.7, 6.85, 6.8, 6.9, 6.75, 6.85, 6.8, 6.9, 6.85, 6.8, 6.32, 6.85, 6.8, 6.85, 6.8, 6.85, 6.8, 6.8, 6.85, 6.8, 6.85, 6.8]
BY19_Fd = [27, 77, 127, 193, 243, 310, 377, 443, 510, 577, 643, 710, 777, 877, 977, 1077, 1177, 1277, 1360]
BY19_F = [7.9, 14, 8.4, 7.5, 7.5, 12.4, 7.5, 5.8, 6.6, 7.5, 11, 8.4, 8.4, 9.3, 7.5, 11.9, 8.4, 9.3, 11]
BY19_Pd = [20, 100, 180, 260, 340, 420, 500, 580, 660, 740, 820, 900, 980, 1077, 1160, 1250, 1340]
BY19_P = [1, 0.9, 1, 1.2, 0.9, 1, 1.2, 1, 1.2, 1, 1.2, 1.5, 1.3, 5.8, 4.9, 1.8, 2]
BY19_Cad = [10, 77, 93, 143, 210, 277, 343, 410, 477, 543, 610, 677, 710, 743, 810, 877, 977, 1143, 1260, 1343]
BY19_Ca = [669, 656, 734, 644, 631, 610, 605, 592, 579, 553, 527, 501, 449, 475, 410, 384, 358, 332, 293, 267]
BY19_md = [0, 277, 477, 610, 743, 877, 943, 1010, 1143, 1210, 1390]
BY19_mpH = [6.8, 6.8, 6.8, 6.8, 6.82, 6.83, 6.83, 6.84, 6.85, 6.85, 6.85]
BY19_mF = [6.6, 6.6, 6.6, 7.2, 8.2, 9, 9.3, 10, 11.9, 12.8, 14.9]
BY19_mP = [1, 1, 1, 1.1, 1.3, 1.6, 1.8, 2.3, 2.6, 2.8, 3.1]
BY19_mCa = [618, 592, 553, 501, 423, 345, 318, 305, 280, 272, 254]

# ---------------- BY18 ----------------
BY18_pHd = [10, 40, 70, 100, 130, 160, 190, 220, 250, 280, 310, 340, 370, 400, 430, 460, 490, 520, 550, 580, 610, 640, 677, 710, 743, 843, 943, 1010, 1077, 1177, 1277, 1343]
BY18_pH = [6.7, 6.6, 6.75, 6.65, 6.8, 6.7, 6.6, 6.75, 6.7, 6.8, 6.65, 6.75, 6.7, 6.6, 6.8, 6.7, 6.75, 6.65, 6.7, 6.8, 6.7, 6.75, 6.7, 6.65, 6.75, 6.68, 6.62, 6.68, 6.62, 6.73, 6.77, 6.99]
BY18_Fd = [27, 77, 143, 210, 310, 377, 443, 510, 577, 643, 743, 810, 877, 977, 1077, 1160, 1243, 1370]
BY18_F = [8, 19.5, 8.9, 9.8, 14.2, 9.8, 10.6, 10.6, 11, 11.5, 12.4, 12.8, 13.3, 14.2, 16.9, 19.5, 25.7, 35.9]
BY18_Pd = [20, 100, 180, 260, 340, 420, 477, 520, 577, 640, 720, 800, 880, 943, 1043, 1143, 1243, 1343]
BY18_P = [0.9, 1, 0.9, 1, 0.9, 1, 5.3, 1, 4.4, 1, 0.9, 1, 1.2, 6.2, 6.2, 16, 21.3, 55.4]
BY18_Cad = [10, 77, 143, 210, 277, 343, 410, 477, 543, 610, 677, 743, 810, 943, 1010, 1077, 1177, 1277, 1377]
BY18_Ca = [592, 579, 566, 579, 553, 566, 540, 566, 527, 540, 513, 513, 500, 342, 263, 197, 158, 105, 66]
BY18_md = [0, 677, 810, 877, 943, 1010, 1077, 1210, 1243, 1390]
BY18_mpH = [6.68, 6.68, 6.72, 6.78, 6.85, 6.9, 6.95, 7.05, 7.1, 7.27]
BY18_mF = [9.2, 9.2, 9.3, 9.5, 9.8, 10.5, 12.4, 16.9, 18, 21.3]
BY18_mP = [0.9, 0.9, 0.9, 0.9, 1, 1, 1.5, 2.7, 3.5, 6.2]
BY18_mCa = [627, 619, 553, 450, 342, 260, 184, 90, 79, 40]

# ---------------- BY17 ----------------
BY17_pHd = [23, 57, 90, 123, 157, 190, 223, 257, 290, 323, 357, 390, 423, 457, 490, 523, 557, 590, 623, 690, 790, 890, 990, 1090, 1190, 1290, 1357]
BY17_pH = [6.68, 6.6, 6.75, 6.65, 6.8, 6.7, 6.75, 6.6, 6.8, 6.85, 6.75, 6.9, 6.8, 6.95, 6.85, 7.0, 6.9, 7.0, 6.95, 7.23, 7.12, 7.34, 7.23, 7.34, 7.23, 7.29, 7.23]
BY17_Fd = [23, 57, 90, 140, 190, 223, 273, 307, 340, 373, 407, 440, 473, 507, 540, 573, 623, 673, 723, 773, 857, 940, 1023, 1123, 1223, 1357]
BY17_F = [14.6, 13.7, 12.8, 11.9, 8.4, 12.8, 13.7, 15.5, 20.8, 22.6, 26.2, 29.7, 31.5, 33.3, 40.4, 41.3, 33.3, 36, 39.5, 40.4, 42.2, 44, 45.8, 44.9, 43.1, 37.7]
BY17_Pd = [23, 90, 157, 223, 290, 357, 423, 457, 523, 573, 623, 673, 723, 790, 873, 957, 1057, 1157, 1257, 1357]
BY17_P = [0.9, 0.9, 0.9, 0.9, 0.9, 0.9, 1, 6.6, 20.8, 33.3, 23.1, 19.6, 26.2, 27.1, 30.6, 29.7, 30.6, 29.7, 30.6, 23.5]
BY17_Cad = [23, 57, 107, 157, 223, 273, 323, 357, 390, 423, 490, 557, 657, 757, 890, 990, 1090, 1190, 1290, 1357]
BY17_Ca = [613, 639, 586, 560, 552, 454, 415, 349, 283, 203, 137, 111, 111, 98, 85, 66, 58, 58, 58, 50]
BY17_md = [0, 223, 290, 323, 390, 423, 490, 557, 623, 690, 857, 990, 1123, 1390]
BY17_mpH = [6.68, 6.7, 6.72, 6.78, 6.88, 6.93, 7.05, 7.15, 7.23, 7.26, 7.27, 7.27, 7.27, 7.27]
BY17_mF = [10.5, 10.5, 10.5, 11.5, 13, 13.7, 16, 19, 21, 23.5, 27.1, 29.7, 30.6, 30.6]
BY17_mP = [0.9, 0.9, 0.9, 1.0, 1.2, 1.5, 3.5, 4.8, 6, 7.5, 9.3, 9.8, 10.1, 10.5]
BY17_mCa = [552, 546, 500, 441, 283, 220, 137, 115, 98, 90, 71, 65, 60, 58]

# ---------------- layout of panels ----------------
panel_ids = [
    ["BY11", "BY16", "BY04", "BY22", "BY19"],
    ["BY10", "BY15", "BY03", None, None],
    ["BY07", "BY13", "BY02", "BY21", "BY18"],
    ["BY08", "BY14", None, None, None],
    ["BY06", "BY12", "BY01", "BY20", "BY17"],
]
panel_depths = {
    "BY11": "126-129m", "BY16": "126-129m", "BY04": "128-131m", "BY22": "115-145m", "BY19": "121-151m",
    "BY10": "141-147m", "BY15": "140-146m", "BY03": "136-142m",
    "BY07": "159-165m", "BY13": "161-167m", "BY02": "165-171m", "BY21": "153-159m", "BY18": "156-162m",
    "BY08": "178-187m", "BY14": "178-187m",
    "BY06": "196-202m", "BY12": "197-203m", "BY01": "203-209m", "BY20": "194-200m", "BY17": "195-201m",
}
ca_axis_col = [4, 2, 4, 1, 4]   # panel carrying the Ca axis in each row

# ---------------- style ----------------
C_PH = "#262626"
C_F = "#e8191e"
C_P = "#3d5cb8"
C_CA = "#1e8c3c"
LW = 1.6

W, H = 926, 793
col_x = [117, 270, 424, 578, 732]
row_y = [53, 197, 341, 486, 633]
PW, PHT = 138, 114

plt.rcParams["font.family"] = ["DejaVu Sans"]
plt.rcParams["axes.linewidth"] = 1.5
plt.rcParams["axes.edgecolor"] = "#222222"
plt.rcParams["text.color"] = "#222222"
plt.rcParams["xtick.color"] = "#222222"
plt.rcParams["ytick.color"] = "#222222"

fig = plt.figure(figsize=(W / 100, H / 100), dpi=100)


def add_ax(x, y, w, h):
    return fig.add_axes([x / W, 1 - (y + h) / H, w / W, h / H])


def pair(d, v):
    n = min(len(d), len(v))
    return d[:n], v[:n]


for r, row in enumerate(panel_ids):
    # separate pH axis on the far left
    axL = add_ax(50, row_y[r], 1, PHT)
    axL.set_ylim(0.93, 8.6)
    axL.set_yticks([2, 4, 6, 8])
    axL.set_xticks([])
    for s in ["right", "top", "bottom"]:
        axL.spines[s].set_visible(False)
    axL.patch.set_visible(False)
    axL.tick_params(axis="y", direction="in", length=5, width=1.2, labelsize=11.5, pad=3)
    axL.set_ylabel("pH", fontsize=12.5, labelpad=4)

    for c, pid in enumerate(row):
        if pid is None:
            continue
        g = globals()
        ax = add_ax(col_x[c], row_y[r], PW, PHT)
        xmax = 250 if c == 0 else 1390
        ax.set_xlim(0, xmax)
        ax.set_ylim(0, 60)
        axp = ax.twinx()
        axp.set_ylim(0.93, 8.6)
        axc = ax.twinx()
        axc.set_ylim(0, 890)

        # model curves
        md = g[pid + "_md"]
        axc.plot(*pair(md, g[pid + "_mCa"]), color=C_CA, lw=LW, zorder=3)
        ax.plot(*pair(md, g[pid + "_mF"]), color=C_F, lw=LW, zorder=3)
        ax.plot(*pair(md, g[pid + "_mP"]), color=C_P, lw=LW, zorder=3)
        axp.plot(*pair(md, g[pid + "_mpH"]), color=C_PH, lw=LW, zorder=3)

        # measurements
        axc.plot(*pair(g[pid + "_Cad"], g[pid + "_Ca"]), ls="none", marker="s", ms=5.5,
                 mfc="none", mec=C_CA, mew=1.0, zorder=2)
        ax.plot(*pair(g[pid + "_Fd"], g[pid + "_F"]), ls="none", marker="o", ms=6,
                mfc="none", mec=C_F, mew=1.0, zorder=2)
        ax.plot(*pair(g[pid + "_Pd"], g[pid + "_P"]), ls="none", marker="^", ms=6,
                mfc="none", mec=C_P, mew=1.0, zorder=2)
        axp.plot(*pair(g[pid + "_pHd"], g[pid + "_pH"]), ls="none", marker="D", ms=5.5,
                 mfc="none", mec="#333333", mew=1.0, zorder=2)

        # ticks
        ax.set_yticks([0, 20, 40, 60])
        if c == 0:
            ax.set_xticks(list(range(0, 251, 50)))
            xlabels = ["0", "", "100", "", "200", ""]
        else:
            ax.set_xticks([0, 200, 400, 500, 600, 800, 1000, 1200])
            xlabels = ["0", "", "", "500", "", "", "1000", ""]
        ax.tick_params(axis="both", direction="in", length=4, width=1.0, top=True,
                       labelsize=11.5, pad=4)
        if r == 4:
            ax.set_xticklabels(xlabels)
            ax.set_xlabel("days", fontsize=14, fontweight="bold", labelpad=5)
        else:
            ax.set_xticklabels([])
        if c == 0:
            ax.set_ylabel("F, P (µM)", fontsize=11.5, labelpad=1)
        else:
            ax.set_yticklabels([])

        axp.axis("off")
        if c == ca_axis_col[r]:
            axc.set_yticks([0, 250, 500, 750])
            axc.tick_params(axis="y", direction="out", length=4, width=1.0, labelsize=11.5, pad=2)
            axc.set_ylabel("Ca (µM)", fontsize=11, labelpad=1)
            for s in ["left", "top", "bottom"]:
                axc.spines[s].set_visible(False)
        else:
            axc.axis("off")

        ax.set_title(r"$\mathbf{%s}$ %s" % (pid, panel_depths[pid]), fontsize=10.5, pad=2.5)

        if r == 0:
            fig.text((col_x[c] + PW / 2) / W, 1 - 25 / H, col_titles[c], ha="center", va="center",
                     fontsize=13, fontweight="bold")

# legend
handles = [
    Line2D([], [], ls="none", marker="D", ms=8, mfc="none", mec="#222222", mew=1.8),
    Line2D([], [], ls="none", marker="o", ms=8, mfc="none", mec=C_F, mew=1.8),
    Line2D([], [], ls="none", marker="^", ms=8.5, mfc="none", mec=C_P, mew=1.8),
    Line2D([], [], ls="none", marker="s", ms=7.5, mfc="none", mec=C_CA, mew=1.8),
]
leg = fig.legend(handles, ["pH", "Fluoride", "Phosphate", "Calcium"], loc="upper left",
                 bbox_to_anchor=(779 / W, 1 - 186 / H), fontsize=12.5, frameon=True, fancybox=True,
                 handlelength=1.0, handletextpad=0.55, labelspacing=0.42, borderpad=0.85,
                 borderaxespad=0)
fr = leg.get_frame()
fr.set_edgecolor("#222222")
fr.set_linewidth(2.8)
fr.set_boxstyle("round,pad=0,rounding_size=1.0")

fig.savefig("out.png", dpi=100)
